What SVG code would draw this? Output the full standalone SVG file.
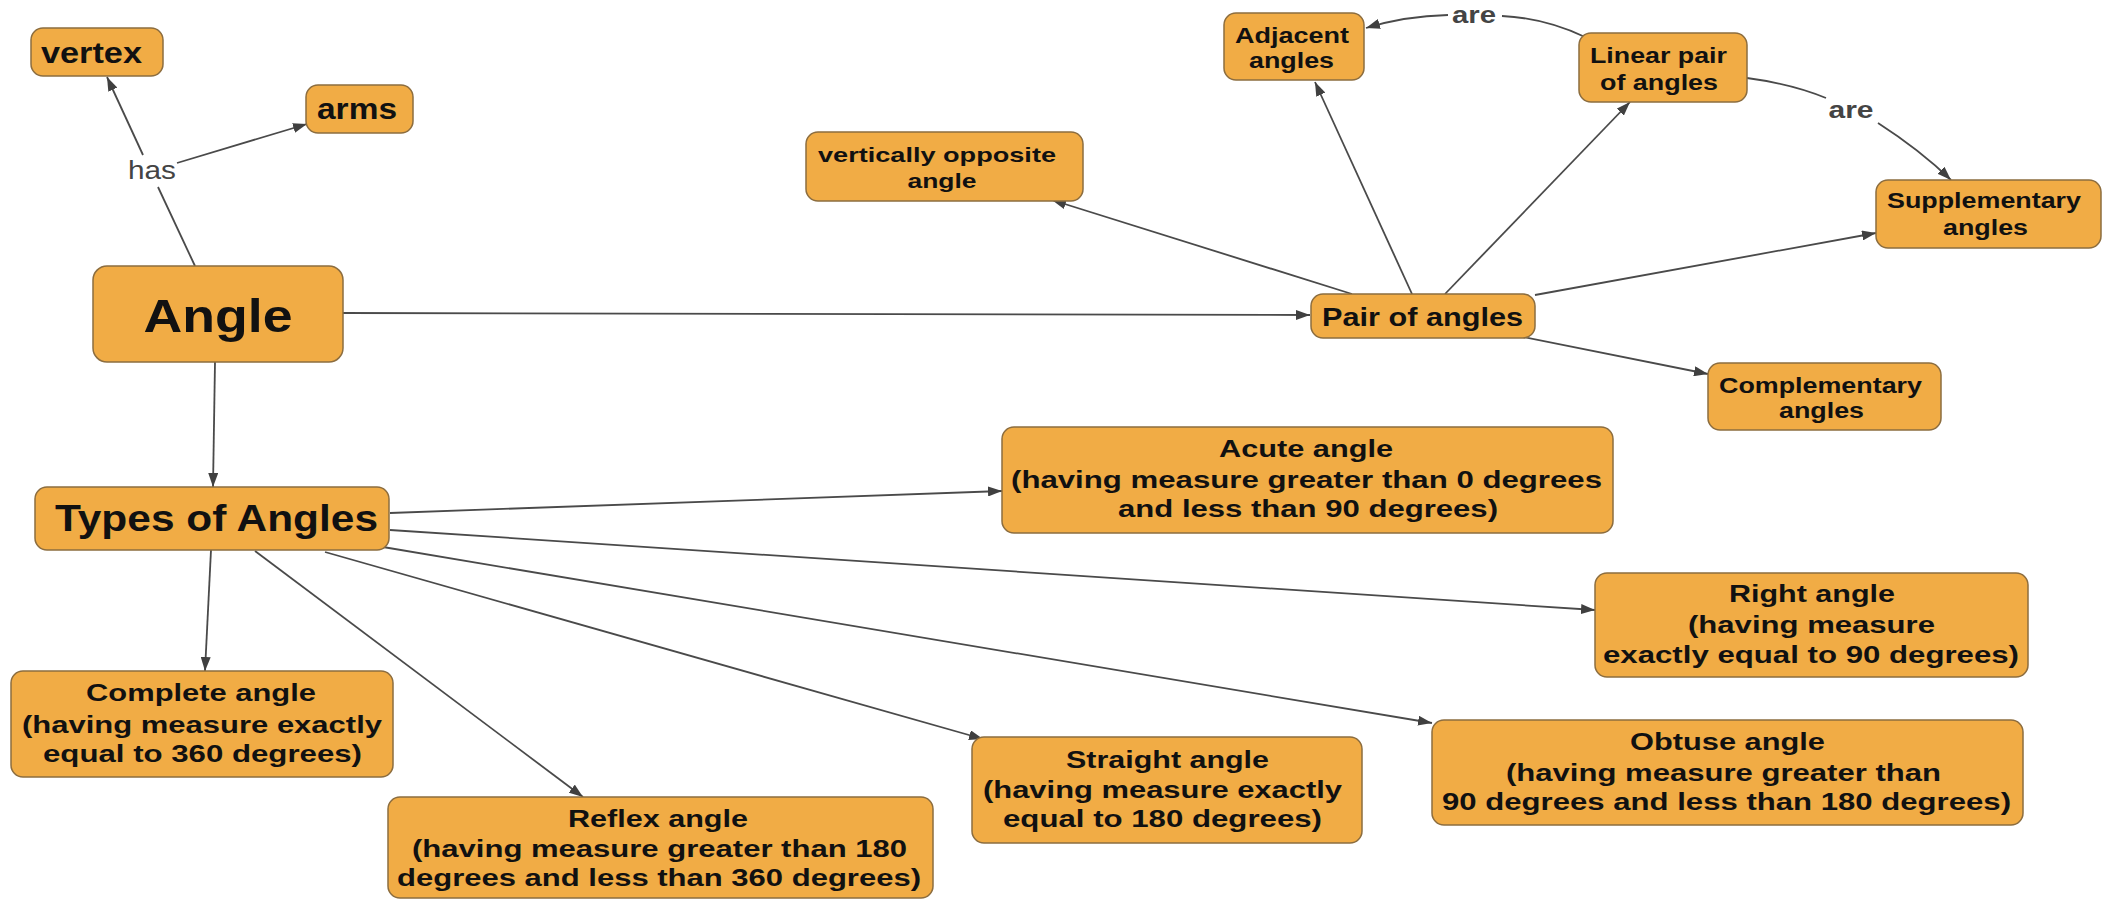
<svg xmlns="http://www.w3.org/2000/svg" width="2111" height="900" viewBox="0 0 2111 900">
<defs>
<marker id="arr" viewBox="0 0 14 10" markerWidth="14" markerHeight="10" refX="14" refY="5" orient="auto" markerUnits="userSpaceOnUse">
<path d="M0,0 L14,5 L0,10 z" fill="#404040"/>
</marker>
<style>
.box{fill:#F1AC45;stroke:#8C6D3F;stroke-width:1.5}
.t{font-family:"Liberation Sans",Arial,sans-serif;font-weight:bold;fill:#111;text-anchor:middle}
.c{fill:none;stroke:#4a4a4a;stroke-width:1.8}
.lbl{font-family:"Liberation Sans",Arial,sans-serif;fill:#444;text-anchor:middle}
</style>
</defs>
<rect width="2111" height="900" fill="#ffffff"/>
<g id="connectors">
<path class="c" d="M195,266 L158,187"/>
<path class="c" d="M143,155 L107,77" marker-end="url(#arr)"/>
<path class="c" d="M177,163 L307,124" marker-end="url(#arr)"/>
<path class="c" d="M343,313 L1310,315" marker-end="url(#arr)"/>
<path class="c" d="M215,362 L213,487" marker-end="url(#arr)"/>
<path class="c" d="M1352,294 L1052,200" marker-end="url(#arr)"/>
<path class="c" d="M1412,294 L1315,82" marker-end="url(#arr)"/>
<path class="c" d="M1445,294 L1630,102" marker-end="url(#arr)"/>
<path class="c" d="M1535,295 L1876,233" marker-end="url(#arr)"/>
<path class="c" d="M1523,337 L1708,374" marker-end="url(#arr)"/>
<path class="c" d="M1585,37 Q1545,18 1502,16"/>
<path class="c" d="M1448,15 Q1405,16 1366,28" marker-end="url(#arr)"/>
<path class="c" d="M1747,78 Q1792,84 1826,98"/>
<path class="c" d="M1878,123 Q1920,150 1951,180" marker-end="url(#arr)"/>
<path class="c" d="M390,513 L1002,491" marker-end="url(#arr)"/>
<path class="c" d="M390,530 L1595,610" marker-end="url(#arr)"/>
<path class="c" d="M383,547 L1432,723" marker-end="url(#arr)"/>
<path class="c" d="M325,552 L983,739" marker-end="url(#arr)"/>
<path class="c" d="M255,551 L583,797" marker-end="url(#arr)"/>
<path class="c" d="M211,550 L205,671" marker-end="url(#arr)"/>
<text class="lbl" x="152" y="179" font-size="25" textLength="48" lengthAdjust="spacingAndGlyphs">has</text>
<text class="lbl" x="1474" y="23" font-size="24" font-weight="bold" textLength="44" lengthAdjust="spacingAndGlyphs">are</text>
<text class="lbl" x="1851" y="118" font-size="24" font-weight="bold" textLength="45" lengthAdjust="spacingAndGlyphs">are</text>
</g>
<g id="vertex"><rect class="box" x="31" y="28" width="132" height="48" rx="12"/>
<text class="t" x="91.5" y="63" font-size="30" textLength="101" lengthAdjust="spacingAndGlyphs">vertex</text></g>
<g id="arms"><rect class="box" x="306" y="85" width="107" height="48" rx="12"/>
<text class="t" x="357" y="119" font-size="30" textLength="80" lengthAdjust="spacingAndGlyphs">arms</text></g>
<g id="angle"><rect class="box" x="93" y="266" width="250" height="96" rx="14"/>
<text class="t" x="218" y="332" font-size="46" textLength="149" lengthAdjust="spacingAndGlyphs">Angle</text></g>
<g id="types"><rect class="box" x="35" y="487" width="354" height="63" rx="12"/>
<text class="t" x="216.5" y="531" font-size="36" textLength="323" lengthAdjust="spacingAndGlyphs">Types of Angles</text></g>
<g id="pair"><rect class="box" x="1311" y="294" width="224" height="44" rx="12"/>
<text class="t" x="1422.5" y="326" font-size="26" textLength="201" lengthAdjust="spacingAndGlyphs">Pair of angles</text></g>
<g id="vertopp"><rect class="box" x="806" y="132" width="277" height="69" rx="12"/>
<text class="t" x="937" y="162" font-size="21" textLength="238" lengthAdjust="spacingAndGlyphs">vertically opposite</text>
<text class="t" x="942" y="188" font-size="21" textLength="69" lengthAdjust="spacingAndGlyphs">angle</text></g>
<g id="adjacent"><rect class="box" x="1224" y="13" width="140" height="67" rx="12"/>
<text class="t" x="1292" y="43" font-size="22" textLength="114" lengthAdjust="spacingAndGlyphs">Adjacent</text>
<text class="t" x="1291.5" y="68" font-size="22" textLength="85" lengthAdjust="spacingAndGlyphs">angles</text></g>
<g id="linear"><rect class="box" x="1579" y="33" width="168" height="69" rx="12"/>
<text class="t" x="1658.5" y="63" font-size="22" textLength="137" lengthAdjust="spacingAndGlyphs">Linear pair</text>
<text class="t" x="1659" y="90" font-size="22" textLength="118" lengthAdjust="spacingAndGlyphs">of angles</text></g>
<g id="supplementary"><rect class="box" x="1876" y="180" width="225" height="68" rx="12"/>
<text class="t" x="1984" y="208" font-size="22" textLength="194" lengthAdjust="spacingAndGlyphs">Supplementary</text>
<text class="t" x="1985.5" y="235" font-size="22" textLength="85" lengthAdjust="spacingAndGlyphs">angles</text></g>
<g id="complementary"><rect class="box" x="1708" y="363" width="233" height="67" rx="12"/>
<text class="t" x="1820.5" y="393" font-size="22" textLength="203" lengthAdjust="spacingAndGlyphs">Complementary</text>
<text class="t" x="1821.5" y="418" font-size="22" textLength="85" lengthAdjust="spacingAndGlyphs">angles</text></g>
<g id="acute"><rect class="box" x="1002" y="427" width="611" height="106" rx="12"/>
<text class="t" x="1306" y="457" font-size="23" textLength="174" lengthAdjust="spacingAndGlyphs">Acute angle</text>
<text class="t" x="1306.5" y="488" font-size="23" textLength="591" lengthAdjust="spacingAndGlyphs">(having measure greater than 0 degrees</text>
<text class="t" x="1308" y="517" font-size="23" textLength="380" lengthAdjust="spacingAndGlyphs">and less than 90 degrees)</text></g>
<g id="right"><rect class="box" x="1595" y="573" width="433" height="104" rx="12"/>
<text class="t" x="1812" y="602" font-size="23" textLength="166" lengthAdjust="spacingAndGlyphs">Right angle</text>
<text class="t" x="1811.5" y="633" font-size="23" textLength="247" lengthAdjust="spacingAndGlyphs">(having measure</text>
<text class="t" x="1811" y="663" font-size="23" textLength="416" lengthAdjust="spacingAndGlyphs">exactly equal to 90 degrees)</text></g>
<g id="obtuse"><rect class="box" x="1432" y="720" width="591" height="105" rx="12"/>
<text class="t" x="1727.5" y="750" font-size="23" textLength="195" lengthAdjust="spacingAndGlyphs">Obtuse angle</text>
<text class="t" x="1723.5" y="781" font-size="23" textLength="435" lengthAdjust="spacingAndGlyphs">(having measure greater than</text>
<text class="t" x="1726.5" y="810" font-size="23" textLength="569" lengthAdjust="spacingAndGlyphs">90 degrees and less than 180 degrees)</text></g>
<g id="straight"><rect class="box" x="972" y="737" width="390" height="106" rx="12"/>
<text class="t" x="1167.5" y="768" font-size="23" textLength="203" lengthAdjust="spacingAndGlyphs">Straight angle</text>
<text class="t" x="1162.5" y="798" font-size="23" textLength="359" lengthAdjust="spacingAndGlyphs">(having measure exactly</text>
<text class="t" x="1162.5" y="827" font-size="23" textLength="319" lengthAdjust="spacingAndGlyphs">equal to 180 degrees)</text></g>
<g id="complete"><rect class="box" x="11" y="671" width="382" height="106" rx="12"/>
<text class="t" x="201" y="701" font-size="24" textLength="230" lengthAdjust="spacingAndGlyphs">Complete angle</text>
<text class="t" x="202" y="733" font-size="24" textLength="360" lengthAdjust="spacingAndGlyphs">(having measure exactly</text>
<text class="t" x="202.5" y="762" font-size="24" textLength="319" lengthAdjust="spacingAndGlyphs">equal to 360 degrees)</text></g>
<g id="reflex"><rect class="box" x="388" y="797" width="545" height="101" rx="12"/>
<text class="t" x="658" y="827" font-size="23" textLength="180" lengthAdjust="spacingAndGlyphs">Reflex angle</text>
<text class="t" x="659.5" y="857" font-size="23" textLength="495" lengthAdjust="spacingAndGlyphs">(having measure greater than 180</text>
<text class="t" x="659" y="886" font-size="23" textLength="524" lengthAdjust="spacingAndGlyphs">degrees and less than 360 degrees)</text></g>
</svg>
